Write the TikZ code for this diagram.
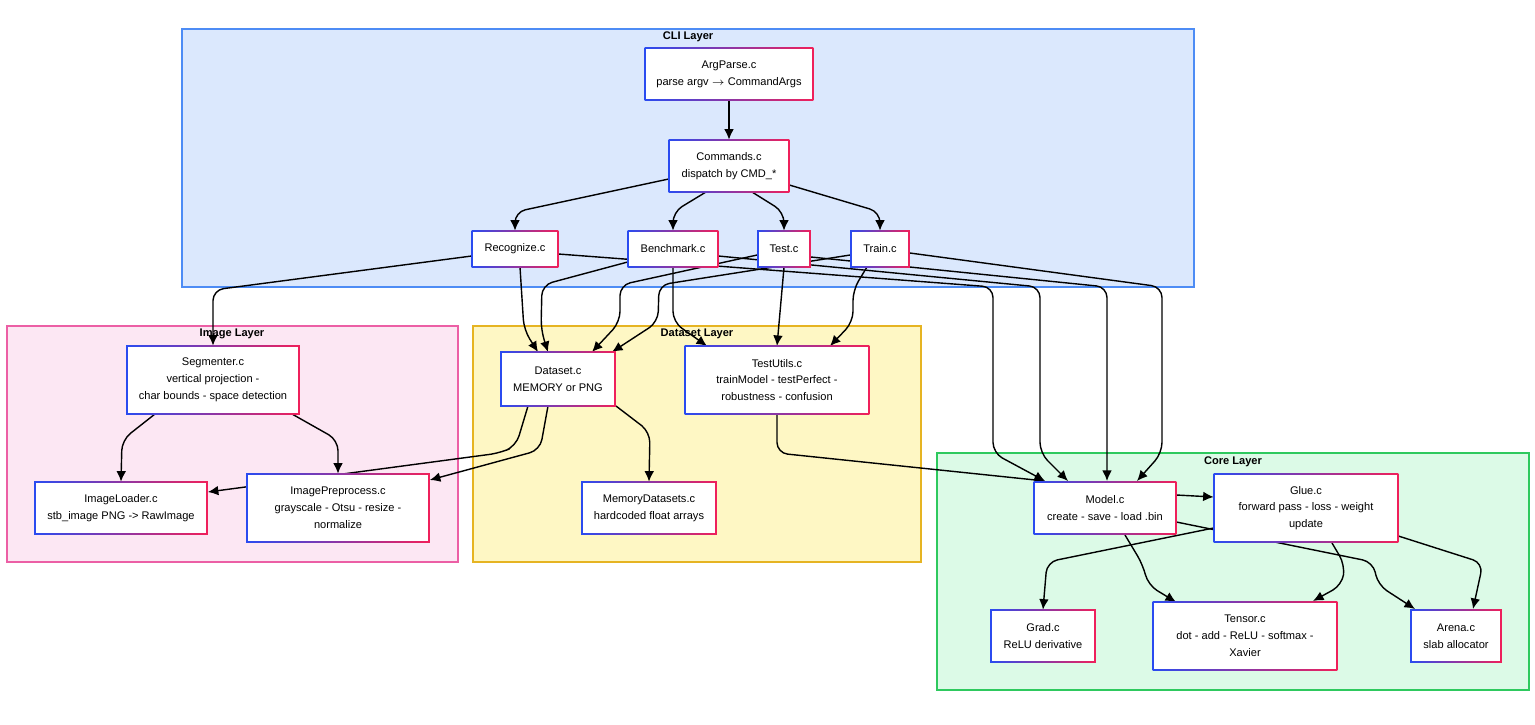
\documentclass[tikz,border=0pt]{standalone}
\usepackage{fontspec}
\setmainfont{Liberation Sans}
\usetikzlibrary{arrows.meta,positioning}
\definecolor{bluebd}{HTML}{2A4BF0}
\definecolor{pinkbd}{HTML}{F0205A}
\definecolor{cliF}{HTML}{DBE8FD}
\definecolor{cliD}{HTML}{4D8CF5}
\definecolor{imgF}{HTML}{FCE7F3}
\definecolor{imgD}{HTML}{EC5FA5}
\definecolor{dsF}{HTML}{FEF7C4}
\definecolor{dsD}{HTML}{E6B422}
\definecolor{coreF}{HTML}{DCFAE7}
\definecolor{coreD}{HTML}{2EC95E}
\pgfdeclarelayer{bg}
\pgfdeclarelayer{edge}
\pgfdeclarelayer{frame}
\pgfsetlayers{bg,edge,frame,main}
\tikzset{
  mod/.style={align=center, inner sep=0pt, font=\fontsize{6.3}{9.6}\selectfont},
  grp/.style={line width=0.8pt},
  glab/.style={font=\fontsize{6.3}{8}\selectfont\bfseries},
  link/.style={-{Latex[length=6pt,width=5.5pt]}, line width=0.8pt, rounded corners=6pt},
}
% gradient frame behind a module node
\newcommand{\frm}[1]{%
  \begin{pgfonlayer}{frame}
    \shade[left color=bluebd, right color=pinkbd] (#1.south west) rectangle (#1.north east);
    \fill[white] ([shift={(0.9pt,0.9pt)}]#1.south west) rectangle ([shift={(-0.9pt,-0.9pt)}]#1.north east);
  \end{pgfonlayer}}
\begin{document}
\begin{tikzpicture}[x=0.02cm,y=-0.02cm]
  \useasboundingbox (0,0) rectangle (1535,724);
  % layers
  \begin{pgfonlayer}{bg}
    \draw[grp, draw=cliD, fill=cliF] (182,29) rectangle (1194,287);
    \draw[grp, draw=imgD, fill=imgF] (7,326) rectangle (458,562);
    \draw[grp, draw=dsD, fill=dsF] (473,326) rectangle (921,562);
    \draw[grp, draw=coreD, fill=coreF] (937,453) rectangle (1529,690);
  \end{pgfonlayer}
  \node[glab] (cliL) at (688,37) {CLI Layer};
  \node[glab] (imgL) at (232,334) {Image Layer};
  \node[glab] (dsL) at (697,334) {Dataset Layer};
  \node[glab] (coreL) at (1233,462) {Core Layer};

  % modules
  \node[mod, minimum width=3.36cm, minimum height=1.04cm] (arg) at (729,74) {ArgParse.c\\parse argv $\rightarrow$ CommandArgs};
  \node[mod, minimum width=2.4cm, minimum height=1.04cm] (cmd) at (729,166) {Commands.c\\dispatch by CMD\_*};
  \node[mod, minimum width=1.72cm, minimum height=0.72cm] (rec) at (515,249) {Recognize.c};
  \node[mod, minimum width=1.8cm, minimum height=0.72cm] (bench) at (673,249) {Benchmark.c};
  \node[mod, minimum width=1.06cm, minimum height=0.72cm] (test) at (784,249) {Test.c};
  \node[mod, minimum width=1.18cm, minimum height=0.72cm] (train) at (880,249) {Train.c};
  \node[mod, minimum width=3.46cm, minimum height=1.36cm] (seg) at (213,380) {Segmenter.c\\vertical projection -\\char bounds - space detection};
  \node[mod, minimum width=2.3cm, minimum height=1.08cm] (ds) at (558,379) {Dataset.c\\MEMORY or PNG};
  \node[mod, minimum width=3.68cm, minimum height=1.36cm] (tu) at (777,380) {TestUtils.c\\trainModel - testPerfect -\\robustness - confusion};
  \node[mod, minimum width=3.46cm, minimum height=1.04cm] (load) at (121,508) {ImageLoader.c\\stb\_image PNG -> RawImage};
  \node[mod, minimum width=3.66cm, minimum height=1.36cm] (prep) at (338,508) {ImagePreprocess.c\\grayscale - Otsu - resize -\\normalize};
  \node[mod, minimum width=2.7cm, minimum height=1.04cm] (mem) at (649,508) {MemoryDatasets.c\\hardcoded float arrays};
  \node[mod, minimum width=2.84cm, minimum height=1.04cm] (model) at (1105,508) {Model.c\\create - save - load .bin};
  \node[mod, minimum width=3.68cm, minimum height=1.36cm] (glue) at (1306,508) {Glue.c\\forward pass - loss - weight\\update};
  \node[mod, minimum width=2.1cm, minimum height=1.04cm] (grad) at (1043,636) {Grad.c\\ReLU derivative};
  \node[mod, minimum width=3.68cm, minimum height=1.36cm] (tensor) at (1245,636) {Tensor.c\\dot - add - ReLU - softmax -\\Xavier};
  \node[mod, minimum width=1.82cm, minimum height=1.04cm] (arena) at (1456,636) {Arena.c\\slab allocator};
  \foreach \n in {arg,cmd,rec,bench,test,train,seg,ds,tu,load,prep,mem,model,glue,grad,tensor,arena} {\frm{\n}}

  % connectors
  \begin{pgfonlayer}{edge}
    \draw[link] (arg) -- (cmd);
    \draw[link] (cmd.west |- 0,179) -- (515,212) -- (rec.north);
    \draw[link] (706,192) -- (673,212) -- (bench.north);
    \draw[link] (752,192) -- (784,212) -- (test.north);
    \draw[link] (cmd.east |- 0,185) -- (880,212) -- (train.north);
    \draw[link] (rec.west |- 0,256) -- (213,290) -- (seg.north);
    \draw[link] (520,267) -- (524,330) -- (538,352);
    \draw[link] (bench.west |- 0,262) -- (542,285) -- (541,330) -- (548,352);
    \draw[link] (test.west |- 0,255) -- (620,285) -- (620,322) -- (592,352);
    \draw[link] (train.west |- 0,255) -- (659,285) -- (658,322) -- (612,352);
    \draw[link] (bench.south) -- (673,322) -- (707,346);
    \draw[link] (test.south) -- (777,346);
    \draw[link] (867,267) -- (853,290) -- (853,322) -- (830,346);
    \draw[link] (rec.east |- 0,254) -- (993,287) -- (993,453) -- (1045,481);
    \draw[link] (bench.east |- 0,256) -- (1040,287) -- (1040,453) -- (1068,481);
    \draw[link] (test.east |- 0,257) -- (1107,287) -- (1107,481);
    \draw[link] (train.east |- 0,253) -- (1162,287) -- (1162,453) -- (1137,481);
    \draw[link] (tu.south) -- (777,453) -- (1045,481);
    \draw[link] (155,414) -- (122,440) -- (load.north);
    \draw[link] (292,414) -- (338,440) -- (prep.north);
    \draw[link] (528,406) -- (516,446) -- (500,453) -- (load.east |- 0,492);
    \draw[link] (548,406) -- (540,450) -- (prep.east |- 0,480);
    \draw[link] (616,406) -- (650,432) -- (mem.north);
    \draw[link] (model.east |- 0,495) -- (glue.west |- 0,497);
    \draw[link] (glue.west |- 0,528) -- (1047,562) -- (grad.north);
    \draw[link] (1125,535) -- (1143,565) -- (1148,585) -- (1176,602);
    \draw[link] (1332,543) -- (1345,565) -- (1342,585) -- (1313,601);
    \draw[link] (model.east |- 0,522) -- (1373,562) -- (1378,585) -- (1415,609);
    \draw[link] (glue.east |- 0,536) -- (1483,563) -- (1473,609);
  \end{pgfonlayer}
\end{tikzpicture}
\end{document}
